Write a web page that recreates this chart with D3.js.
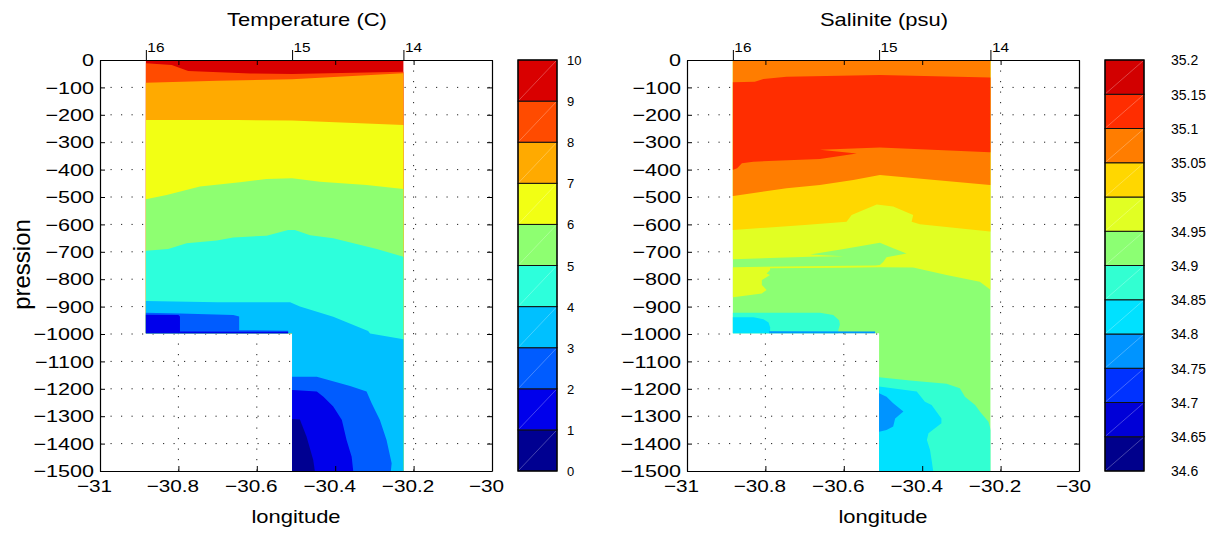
<!DOCTYPE html>
<html><head><meta charset="utf-8">
<script src="https://cdn.jsdelivr.net/npm/d3@7/dist/d3.min.js"></script>
<style>body{margin:0;background:#fff}</style>
</head><body><svg id="c" width="1212" height="534"></svg>
<script>
// ---------------- data ----------------
const stationLons = [-30.883, -30.51, -30.226];
const stationLabels = ["16", "15", "14"];
const lonTicks = [-31, -30.8, -30.6, -30.4, -30.2, -30];
const presTicks = [0, -100, -200, -300, -400, -500, -600, -700, -800, -900, -1000, -1100, -1200, -1300, -1400, -1500];
const shallowBottom = -997; // deepest pression reached between stations 16 and 15

const tempLevels = [0, 1, 2, 3, 4, 5, 6, 7, 8, 9, 10];
const tempColors = ["#000091", "#0000eb", "#005cff", "#00c0ff", "#2dffdc", "#8eff71", "#f2ff14", "#ffaa00", "#ff4b00", "#d90000"];

const salLevels = [34.6, 34.65, 34.7, 34.75, 34.8, 34.85, 34.9, 34.95, 35, 35.05, 35.1, 35.15, 35.2];
const salColors = ["#00008c", "#0000d7", "#0032ff", "#0094ff", "#00e1ff", "#32ffd2", "#8cff73", "#e1ff23", "#ffd700", "#ff7d00", "#ff2d00", "#d20000"];

// Temperature isolines [longitude, pression]; colder water lies below each line
const tIso9 = [[-30.883, -12], [-30.817, -18], [-30.775, -40], [-30.617, -49], [-30.51, -51], [-30.226, -43]];
const tIso8 = [[-30.883, -83], [-30.70, -76], [-30.51, -70], [-30.226, -48]];
const tIso7 = [[-30.883, -219], [-30.65, -219], [-30.51, -221], [-30.226, -237]];
const tIso6 = [[-30.883, -508], [-30.830, -493], [-30.745, -462], [-30.643, -446], [-30.575, -434], [-30.51, -432], [-30.439, -444], [-30.320, -456], [-30.226, -471]];
const tIso5 = [[-30.883, -696], [-30.826, -690], [-30.779, -669], [-30.702, -659], [-30.660, -648], [-30.575, -641], [-30.520, -620], [-30.503, -620], [-30.464, -640], [-30.405, -651], [-30.294, -690], [-30.226, -718]];
const tIso4 = [[-30.883, -880], [-30.70, -884], [-30.515, -884], [-30.49, -900], [-30.405, -937], [-30.316, -989], [-30.311, -998], [-30.226, -1019]];
// closed cold pockets (T < level)
const tBelow3 = [
  [[-31.1, -916], [-30.796, -925], [-30.66, -931], [-30.645, -936], [-30.645, -986], [-30.52, -988], [-30.52, -1100], [-31.1, -1100]],
  [[-30.6, -1156], [-30.447, -1156], [-30.362, -1190], [-30.320, -1210], [-30.307, -1253], [-30.286, -1314], [-30.269, -1387], [-30.256, -1472], [-30.258, -1500], [-30.258, -1600], [-30.6, -1600]]
];
const tBelow2 = [
  [[-31.1, -928], [-30.80, -931], [-30.796, -936], [-30.796, -991], [-30.52, -992], [-30.52, -1100], [-31.1, -1100]],
  [[-30.6, -1196], [-30.447, -1210], [-30.430, -1229], [-30.405, -1265], [-30.383, -1314], [-30.371, -1387], [-30.358, -1448], [-30.354, -1500], [-30.354, -1600], [-30.6, -1600]]
];
const tBelow1 = [
  [[-30.6, -1302], [-30.490, -1312], [-30.473, -1375], [-30.456, -1460], [-30.452, -1500], [-30.452, -1600], [-30.6, -1600]]
];

// Salinity isolines / regions [longitude, pression]
const sIso3505 = [[-30.882, -496], [-30.746, -468], [-30.661, -456], [-30.576, -438], [-30.508, -420], [-30.227, -456]];
const sIso3500 = [[-30.882, -620], [-30.70, -602], [-30.593, -590], [-30.580, -566], [-30.559, -553], [-30.516, -527], [-30.474, -535], [-30.423, -566], [-30.427, -590], [-30.406, -599], [-30.227, -626]];
const sAbove3510 = [[-31.1, -81.5], [-30.882, -81.5], [-30.827, -79], [-30.805, -69], [-30.746, -61], [-30.508, -55], [-30.227, -64], [-29.9, -64],
  [-29.9, -337], [-30.227, -337], [-30.508, -319], [-30.661, -328], [-30.567, -341], [-30.661, -361], [-30.831, -371], [-30.860, -377], [-30.872, -395], [-30.882, -401], [-31.1, -401]];
const sAbove3495 = [[-31.1, 10], [-29.9, 10], [-29.9, -839], [-30.225, -839], [-30.253, -809], [-30.338, -785], [-30.423, -757], [-30.508, -756], [-30.60, -758], [-30.70, -759], [-30.788, -760],
  [-30.788, -766], [-30.797, -779], [-30.788, -785], [-30.809, -803], [-30.809, -821], [-30.797, -839], [-30.809, -852], [-30.882, -866], [-31.1, -866],
  [-31.1, -756], [-30.882, -756], [-30.70, -753], [-30.52, -750], [-30.508, -748], [-30.499, -736], [-30.491, -720], [-30.440, -706], [-30.474, -687], [-30.508, -667],
  [-30.60, -690], [-30.686, -710], [-30.601, -716], [-30.686, -718], [-30.882, -727], [-31.1, -727]];
const sBelow3490 = [
  [[-31.1, -922], [-30.661, -922], [-30.627, -931], [-30.612, -950], [-30.610, -965], [-30.614, -985], [-30.614, -1100], [-31.1, -1100]],
  [[-30.6, -1158], [-30.510, -1158], [-30.431, -1170], [-30.338, -1182], [-30.304, -1198], [-30.291, -1229], [-30.265, -1259], [-30.253, -1283], [-30.231, -1320], [-30.225, -1350], [-30.1, -1360], [-30.1, -1600], [-30.6, -1600]]
];
const sBelow3485 = [
  [[-31.1, -939], [-30.83, -939], [-30.805, -946], [-30.792, -958], [-30.788, -975], [-30.788, -1100], [-31.1, -1100]],
  [[-30.6, -1192], [-30.510, -1192], [-30.414, -1210], [-30.393, -1247], [-30.376, -1259], [-30.351, -1308], [-30.351, -1326], [-30.384, -1362], [-30.388, -1387], [-30.380, -1423], [-30.376, -1460], [-30.372, -1500], [-30.372, -1600], [-30.6, -1600]]
];
const sBelow3480 = [
  [[-30.79, -990], [-30.52, -991], [-30.52, -1100], [-30.79, -1100]],
  [[-30.6, -1216], [-30.510, -1216], [-30.491, -1229], [-30.474, -1253], [-30.448, -1283], [-30.469, -1308], [-30.474, -1338], [-30.491, -1350], [-30.510, -1357], [-30.6, -1357]]
];

// ---------------- drawing ----------------
const FONT = "'Liberation Sans', Arial, Helvetica, sans-serif";
const SX = 1.22; // horizontal stretch of the original text
const svg = d3.select("#c");
const PW = 392, TOP = 60, BOT = 471;

function below(iso) {
  const a = iso[0], b = iso[iso.length - 1];
  return [[-31.1, a[1]], ...iso, [-29.9, b[1]], [-29.9, -1700], [-31.1, -1700]];
}
function above(iso) {
  const a = iso[0], b = iso[iso.length - 1];
  return [[-31.1, 10], [-31.1, a[1]], ...iso, [-29.9, b[1]], [-29.9, 10]];
}

function stretchText(sel, size) {
  sel.attr("font-family", FONT).attr("font-size", size).attr("fill", "#000");
}

function panel(cfg) {
  const g = svg.append("g");
  const x = d3.scaleLinear().domain([-31, -30]).range([cfg.x0, cfg.x0 + PW]);
  const y = d3.scaleLinear().domain([0, -1500]).range([TOP, BOT]);
  const line = d3.line().x(d => x(d[0])).y(d => y(d[1]));

  // grid (dotted)
  const grid = g.append("g").attr("stroke", "#222").attr("stroke-width", 1).attr("stroke-dasharray", "1.2,9.3");
  lonTicks.slice(1, -1).forEach(t => grid.append("line").attr("x1", x(t)).attr("x2", x(t)).attr("y1", TOP).attr("y2", BOT));
  presTicks.slice(1, -1).forEach(t => grid.append("line").attr("x1", cfg.x0).attr("x2", cfg.x0 + PW).attr("y1", y(t)).attr("y2", y(t)));

  // data region clip
  const region = [[stationLons[0], 0], [stationLons[2], 0], [stationLons[2], -1500], [stationLons[1], -1500], [stationLons[1], shallowBottom], [stationLons[0], shallowBottom]];
  svg.append("clipPath").attr("id", cfg.id).append("path").attr("d", line(region) + "Z");
  const gc = g.append("g").attr("clip-path", `url(#${cfg.id})`);
  cfg.layers.forEach(l => {
    l.polys.forEach(p => gc.append("path").attr("d", line(p) + "Z").attr("fill", cfg.colors[l.band]).attr("stroke", "none"));
  });

  // axes (ticks inside)
  const ax = g.append("g");
  const bottom = ax.append("g").attr("transform", `translate(0,${BOT})`)
    .call(d3.axisBottom(x).tickValues(lonTicks).tickSize(-5).tickSizeOuter(0).tickFormat(d3.format("")));
  bottom.selectAll("text").attr("x", -6 / SX).attr("y", 21).attr("dy", 0).attr("transform", `scale(${SX},1)`).call(stretchText, 17);
  const left = ax.append("g").attr("transform", `translate(${cfg.x0},0)`)
    .call(d3.axisLeft(y).tickValues(presTicks).tickSize(-5).tickSizeOuter(0).tickFormat(d3.format("d")));
  left.selectAll("text").attr("x", -6 / 1.27).attr("dy", "0.33em").attr("transform", `scale(1.27,1)`).call(stretchText, 17);
  ax.append("g").attr("transform", `translate(${cfg.x0 + PW},0)`)
    .call(d3.axisRight(y).tickValues(presTicks).tickSize(-5).tickSizeOuter(0).tickFormat(""));
  ax.append("g").attr("transform", `translate(0,${TOP})`)
    .call(d3.axisTop(x).tickValues(lonTicks).tickSize(-5).tickSizeOuter(0).tickFormat(""));
  const st = ax.append("g").attr("transform", `translate(0,${TOP})`)
    .call(d3.axisTop(x).tickValues(stationLons).tickSize(10).tickSizeOuter(0).tickFormat((d, i) => stationLabels[i]));
  st.select(".domain").remove();
  st.selectAll("text").attr("text-anchor", "start").attr("x", 1 / SX).attr("y", -8).attr("dy", 0)
    .attr("transform", `scale(${SX},1)`).call(stretchText, 12.6);
  ax.selectAll(".domain").attr("stroke", "#000").attr("stroke-width", 1.2);
  ax.selectAll(".tick line").attr("stroke", "#000").attr("stroke-width", 1);

  // title and labels
  g.append("text").attr("transform", `translate(${cfg.titleX},26) scale(${SX},1)`).attr("text-anchor", "middle").text(cfg.title).call(stretchText, 18);
  g.append("text").attr("transform", `translate(${cfg.x0 + PW / 2},523) scale(${SX},1)`).attr("text-anchor", "middle").text("longitude").call(stretchText, 18);
  if (cfg.ylabel) {
    g.append("text").attr("transform", `translate(30,${(TOP + BOT) / 2 - 1}) rotate(-90)`).attr("text-anchor", "middle").text(cfg.ylabel).call(stretchText, 24);
  }

  // colorbar
  const cb = g.append("g");
  const cx = cfg.x0 + 418, cw = 39;
  const cy = d3.scaleLinear().domain([cfg.levels[0], cfg.levels[cfg.levels.length - 1]]).range([BOT, TOP]);
  cfg.colors.forEach((c, i) => {
    const y0 = cy(cfg.levels[i]), y1 = cy(cfg.levels[i + 1]);
    cb.append("rect").attr("x", cx).attr("y", y1).attr("width", cw).attr("height", y0 - y1).attr("fill", c).attr("stroke", "#111").attr("stroke-width", 1);
    cb.append("line").attr("x1", cx + 1).attr("y1", y0 - 1).attr("x2", cx + cw - 1).attr("y2", y1 + 1).attr("stroke", "rgba(255,255,255,0.45)").attr("stroke-width", 0.6);
  });
  cb.append("rect").attr("x", cx).attr("y", TOP).attr("width", cw).attr("height", BOT - TOP).attr("fill", "none").attr("stroke", "#000").attr("stroke-width", 1.2);
  const cba = cb.append("g").attr("transform", `translate(${cx + cw},0)`)
    .call(d3.axisRight(cy).tickValues(cfg.levels).tickSize(0).tickPadding(cfg.cbPad).tickFormat(d3.format("")));
  cba.select(".domain").remove();
  cba.selectAll("text").attr("dy", "0.35em").call(stretchText, cfg.cbFont);
}

panel({
  id: "clipT", x0: 100, title: "Temperature (C)", titleX: 307, ylabel: "pression",
  levels: tempLevels, colors: tempColors, cbPad: 10, cbFont: 13,
  layers: [
    { band: 9, polys: [[[-31.1, 10], [-29.9, 10], [-29.9, -1700], [-31.1, -1700]]] },
    { band: 8, polys: [below(tIso9)] },
    { band: 7, polys: [below(tIso8)] },
    { band: 6, polys: [below(tIso7)] },
    { band: 5, polys: [below(tIso6)] },
    { band: 4, polys: [below(tIso5)] },
    { band: 3, polys: [below(tIso4)] },
    { band: 2, polys: tBelow3 },
    { band: 1, polys: tBelow2 },
    { band: 0, polys: tBelow1 }
  ]
});

panel({
  id: "clipS", x0: 687, title: "Salinite (psu)", titleX: 884, ylabel: null,
  levels: salLevels, colors: salColors, cbPad: 27, cbFont: 14,
  layers: [
    { band: 6, polys: [[[-31.1, 10], [-29.9, 10], [-29.9, -1700], [-31.1, -1700]]] },
    { band: 7, polys: [sAbove3495] },
    { band: 8, polys: [above(sIso3500)] },
    { band: 9, polys: [above(sIso3505)] },
    { band: 10, polys: [sAbove3510] },
    { band: 5, polys: sBelow3490 },
    { band: 4, polys: sBelow3485 },
    { band: 3, polys: sBelow3480 }
  ]
});
</script>
</body></html>
